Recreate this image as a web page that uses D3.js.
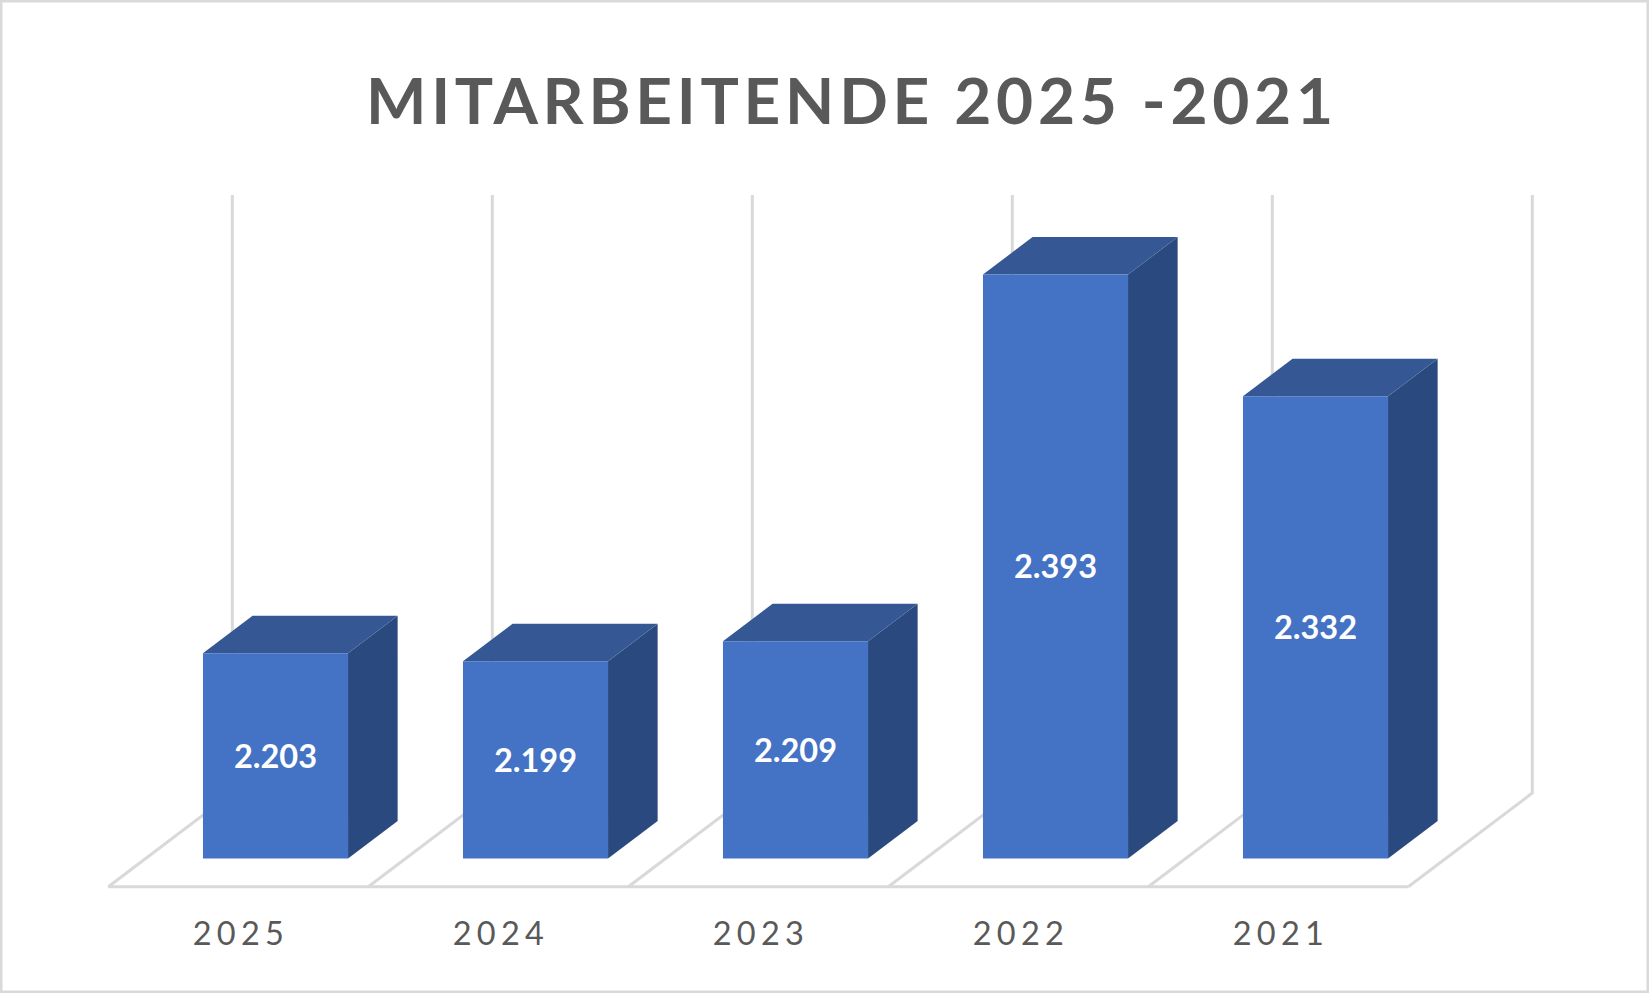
<!DOCTYPE html>
<html>
<head>
<meta charset="utf-8">
<script src="https://cdnjs.cloudflare.com/ajax/libs/d3/7.8.5/d3.min.js"></script>
<style>
    html, body { margin: 0; padding: 0; background: #fff; }
    svg { display: block; }
</style>
</head>
<body>
<svg id="chart" width="1649" height="993"></svg>
<script>
// Daten
const YEARS = ['2025', '2024', '2023', '2022', '2021'];
const EMPLOYEES = [2203, 2199, 2209, 2393, 2332];
const VALUE_DOMAIN = [2100, 2400];
const TITLE = 'MITARBEITENDE 2025 -2021';

const COLORS = {
    front: '#4472C4',
    top: '#355895',
    side: '#2A497E',
    grid: '#D9D9D9',
    text: '#595959'
};

const svg = d3.select('#chart');
const W = 1649, H = 993;

// Rahmen
svg.append('rect')
    .attr('x', 1.25).attr('y', 1.25)
    .attr('width', W - 2.5).attr('height', H - 2.5)
    .attr('fill', '#fff')
    .attr('stroke', COLORS.grid)
    .attr('stroke-width', 2.5);

// 3D-Projektion: Boden vorne links, Tiefenvektor
const origin = { x: 108.3, y: 886.7 };
const depth = { dx: 124, dy: 93.7 };
const plotWidth = 1300;

const catScale = d3.scaleBand().domain(YEARS).range([0, plotWidth]);
const barScale = d3.scaleBand().domain(YEARS).range([0, plotWidth])
    .paddingInner(0.442).paddingOuter(0.221);
const hScale = d3.scaleLinear().domain(VALUE_DOMAIN).range([0, 598]);
const zFront = 0.3, zBack = 0.7;

function proj(x, z, h) {
    return [origin.x + x + z * depth.dx, origin.y - z * depth.dy - h];
}

// Gitter: Rückwand + Boden
const bounds = YEARS.map(y => catScale(y)).concat([plotWidth]);
const grid = svg.append('g')
    .attr('stroke', COLORS.grid)
    .attr('stroke-width', 3)
    .attr('fill', 'none');

bounds.forEach(b => {
    const f = proj(b, 0, 0), bk = proj(b, 1, 0), tp = proj(b, 1, hScale(VALUE_DOMAIN[1]));
    grid.append('path').attr('d', d3.line()([f, bk, tp]));
});
grid.append('line')
    .attr('x1', proj(0, 0, 0)[0]).attr('y1', proj(0, 0, 0)[1])
    .attr('x2', proj(plotWidth, 0, 0)[0]).attr('y2', proj(plotWidth, 0, 0)[1]);

// Säulen
const data = YEARS.map((y, i) => ({ year: y, value: EMPLOYEES[i] }));
const poly = d3.line();
const bars = svg.append('g').selectAll('g.bar').data(data).enter().append('g').attr('class', 'bar');

bars.append('path')
    .attr('fill', COLORS.side)
    .attr('d', d => {
        const x1 = barScale(d.year) + barScale.bandwidth(), h = hScale(d.value);
        return poly([proj(x1, zFront, 0), proj(x1, zBack, 0), proj(x1, zBack, h), proj(x1, zFront, h)]) + 'Z';
    });

bars.append('path')
    .attr('fill', COLORS.top)
    .attr('d', d => {
        const x0 = barScale(d.year), x1 = x0 + barScale.bandwidth(), h = hScale(d.value);
        return poly([proj(x0, zFront, h), proj(x1, zFront, h), proj(x1, zBack, h), proj(x0, zBack, h)]) + 'Z';
    });

bars.append('path')
    .attr('fill', COLORS.front)
    .attr('d', d => {
        const x0 = barScale(d.year), x1 = x0 + barScale.bandwidth(), h = hScale(d.value);
        return poly([proj(x0, zFront, 0), proj(x1, zFront, 0), proj(x1, zFront, h), proj(x0, zFront, h)]) + 'Z';
    });

// Datenbeschriftungen
const deLocale = d3.formatLocale({ decimal: ',', thousands: '.', grouping: [3], currency: ['', ' €'] });
const fmt = deLocale.format(',d');

bars.append('text')
    .attr('x', d => proj(barScale(d.year) + barScale.bandwidth() / 2, zFront, 0)[0])
    .attr('y', d => proj(0, zFront, hScale(d.value) / 2)[1])
    .attr('dy', '0.36em')
    .attr('text-anchor', 'middle')
    .attr('fill', '#fff')
    .style('font-family', 'Lato, "Open Sans", sans-serif')
    .style('font-weight', 'bold')
    .style('font-size', '32.5px')
    .text(d => fmt(d.value));

// Kategorien
svg.append('g').selectAll('text').data(YEARS).enter().append('text')
    .attr('x', d => proj(catScale(d) + catScale.bandwidth() / 2, 0, 0)[0])
    .attr('y', 945)
    .attr('text-anchor', 'middle')
    .attr('textLength', 91)
    .attr('lengthAdjust', 'spacing')
    .attr('fill', COLORS.text)
    .style('font-family', 'Lato, "Open Sans", sans-serif')
    .style('font-size', '32.5px')
    .text(d => d);

// Titel
svg.append('text')
    .attr('x', 849.5)
    .attr('y', 124)
    .attr('text-anchor', 'middle')
    .attr('textLength', 967)
    .attr('lengthAdjust', 'spacing')
    .attr('fill', COLORS.text)
    .style('font-family', 'Lato, "Open Sans", sans-serif')
    .style('font-weight', 'bold')
    .style('font-size', '64px')
    .text(TITLE);
</script>
</body>
</html>
